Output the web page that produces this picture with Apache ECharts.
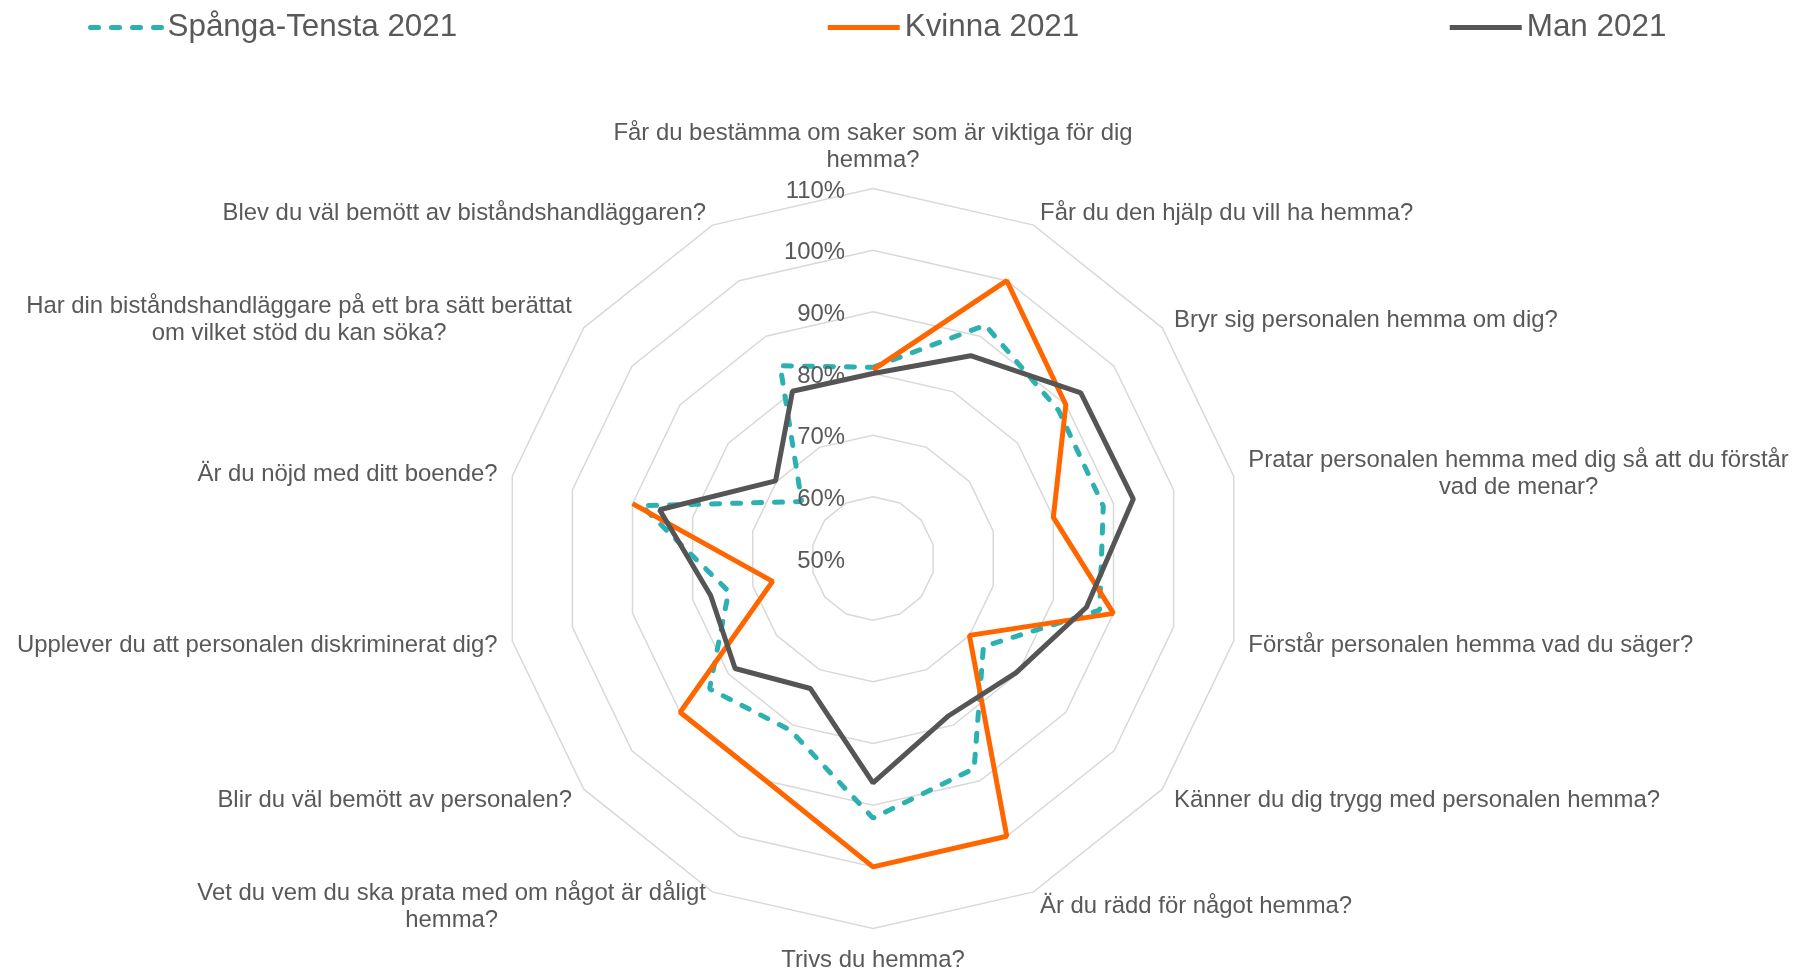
<!DOCTYPE html>
<html>
<head>
<meta charset="utf-8">
<script src="https://cdn.jsdelivr.net/npm/echarts@6/dist/echarts.min.js"></script>
<style>
  html, body { margin: 0; padding: 0; background: #fff; }
  #chart { width: 1796px; height: 969px; }
</style>
</head>
<body>
<div id="chart"></div>
<script>
  // frågor, medurs från toppen
  var questions = [
    'Får du bestämma om saker som är viktiga för dig\nhemma?',
    'Får du den hjälp du vill ha hemma?',
    'Bryr sig personalen hemma om dig?',
    'Pratar personalen hemma med dig så att du förstår\nvad de menar?',
    'Förstår personalen hemma vad du säger?',
    'Känner du dig trygg med personalen hemma?',
    'Är du rädd för något hemma?',
    'Trivs du hemma?',
    'Vet du vem du ska prata med om något är dåligt\nhemma?',
    'Blir du väl bemött av personalen?',
    'Upplever du att personalen diskriminerat dig?',
    'Är du nöjd med ditt boende?',
    'Har din biståndshandläggare på ett bra sätt berättat\nom vilket stöd du kan söka?',
    'Blev du väl bemött av biståndshandläggaren?'
  ]
  var seriesNames = ['Spånga-Tensta 2021', 'Kvinna 2021', 'Man 2021']
  var spangaTensta = [81, 92, 88.5, 88.3, 87.7, 72.9, 87.8, 92.1, 80.9, 83.9, 74, 88.5, 64.8, 84.7]
  var kvinna = [80.6, 100, 90, 80, 90, 70, 100, 100, 90, 90, 66.7, 90, null, null]
  var man = [80, 86.5, 93.1, 93.3, 85.5, 79.7, 78.3, 86.4, 73.4, 78.6, 77, 85.5, 70.2, 80.1]
  var scaleMin = 50
  var scaleMax = 110
  var scaleStep = 10

  var textColor = '#595959'
  var font = "'Liberation Sans', Arial, sans-serif"
  var center = [873, 558.5]
  var radius = 370

  // radar ritar moturs, så ordningen vänds för att få frågorna medurs
  var radarOrder = [0]
  for (var k = questions.length - 1; k > 0; k--) radarOrder.push(k)

  // [radie, vinkel] för polärt koordinatsystem, sista punkten stänger polygonen
  function toPolar (values) {
    var pts = values.map(function (v, i) { return [v, i] })
    pts.push([values[0], values.length])
    return pts
  }

  var chart = echarts.init(document.getElementById('chart'))
  var option = {
    animation: false,
    textStyle: { fontFamily: font },
    legend: {
      data: seriesNames,
      left: 83,
      top: 7,
      itemGap: 368,
      itemWidth: 72,
      itemHeight: 14,
      textStyle: { color: textColor, fontSize: 31.4, fontFamily: font },
      lineStyle: { width: 5 },
      itemStyle: { opacity: 0 }
    },
    radar: {
      center: center,
      radius: radius,
      startAngle: 90,
      shape: 'polygon',
      splitNumber: (scaleMax - scaleMin) / scaleStep,
      nameGap: 15,
      indicator: radarOrder.map(function (i) {
        return { name: questions[i], min: scaleMin, max: scaleMax }
      }),
      axisName: {
        color: textColor,
        fontSize: 23.9,
        fontFamily: font,
        padding: [3, 0, 0, 0],
        formatter: function (value) {
          return value.split('\n').map(function (l) { return '{c|' + l + '}' }).join('\n')
        },
        rich: {
          c: { align: 'center', color: textColor, fontSize: 23.9, lineHeight: 27, fontFamily: font }
        }
      },
      splitLine: { lineStyle: { color: '#d9d9d9', width: 1.5 } },
      splitArea: { show: false },
      axisLine: { show: false },
      axisTick: { show: false },
      axisLabel: { show: false }
    },
    polar: {
      center: center,
      radius: radius
    },
    angleAxis: {
      type: 'value',
      min: 0,
      max: questions.length,
      startAngle: 90,
      clockwise: true,
      show: false
    },
    radiusAxis: {
      type: 'value',
      min: scaleMin,
      max: scaleMax,
      interval: scaleStep,
      axisLine: { show: false },
      axisTick: { show: false },
      splitLine: { show: false },
      axisLabel: {
        formatter: '{value}%',
        margin: 28,
        color: textColor,
        fontSize: 23.9,
        fontFamily: font,
        verticalAlign: 'top',
        lineHeight: 5
      },
      z: 10
    },
    series: [
      {
        name: seriesNames[0],
        type: 'line',
        coordinateSystem: 'polar',
        data: toPolar(spangaTensta),
        symbol: 'none',
        lineStyle: { color: '#2cb0b0', width: 5, type: [8, 13], cap: 'round' },
        itemStyle: { color: '#2cb0b0' }
      },
      {
        name: seriesNames[1],
        type: 'line',
        coordinateSystem: 'polar',
        data: toPolar(kvinna),
        symbol: 'none',
        connectNulls: false,
        lineStyle: { color: '#ff6600', width: 5 },
        itemStyle: { color: '#ff6600' }
      },
      {
        name: seriesNames[2],
        type: 'line',
        coordinateSystem: 'polar',
        data: toPolar(man),
        symbol: 'none',
        lineStyle: { color: '#555555', width: 5 },
        itemStyle: { color: '#555555' }
      }
    ]
  }
  chart.setOption(option)
</script>
</body>
</html>
